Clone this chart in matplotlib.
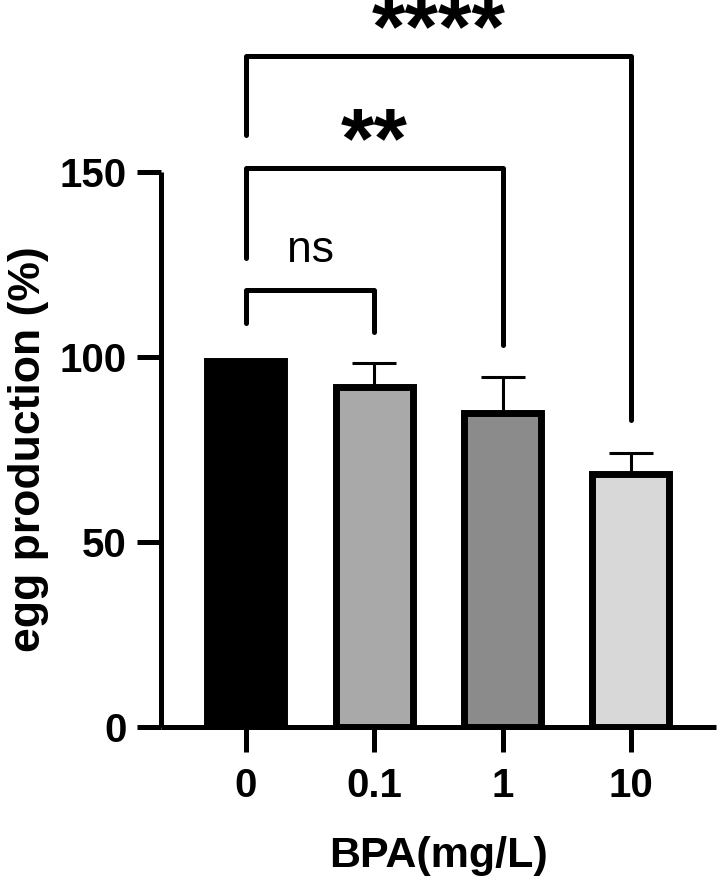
import matplotlib
matplotlib.use("Agg")
import matplotlib.pyplot as plt

plt.rcParams['font.family'] = ['Liberation Sans', 'DejaVu Sans']

# ---- data ----
categories = ["0", "0.1", "1", "10"]
means = [99.0, 92.0, 85.0, 68.5]
sds = [0.0, 6.4, 9.6, 5.6]
bar_colors = ["#000000", "#a9a9a9", "#8b8b8b", "#d8d8d8"]
y_ticks = [0, 50, 100, 150]
x_label = "BPA(mg/L)"
y_label = "egg production (%)"

# comparisons: (group a, group b, label, bracket top, left leg bottom, right leg bottom, text y)
comparisons = [
    (0, 1, "ns", 118.1, 109.2, 106.8, 128.9),
    (0, 2, "**", 151.1, 126.8, 103.2, 157.3),
    (0, 3, "****", 181.4, 160.0, 83.0, 187.4),
]

W, H = 718, 876
fig = plt.figure(figsize=(W / 100, H / 100), dpi=100)
ax = fig.add_axes([161 / W, (H - 727) / H, (716 - 161) / W, 555 / H])

x = list(range(len(categories)))
ax.errorbar(x, means, yerr=[[0] * len(sds), sds], fmt="none", ecolor="black",
            elinewidth=2.2, capsize=15.5, capthick=2.2, zorder=2)
ax.bar(x, means, width=0.6, color=bar_colors, edgecolor="black",
       linewidth=5.0, zorder=3)

ax.set_xlim(-0.662, 3.663)
ax.set_ylim(0, 150)
ax.set_yticks(y_ticks)
ax.set_xticks(x)
ax.set_xticklabels(categories)

for s in ["top", "right"]:
    ax.spines[s].set_visible(False)
for s in ["left", "bottom"]:
    ax.spines[s].set_linewidth(3.6)
    ax.spines[s].set_capstyle("butt")

ax.tick_params(axis="y", length=17, width=3.6, pad=8, labelsize=29)
ax.tick_params(axis="x", length=18, width=3.6, pad=11, labelsize=29)
for lab in ax.get_xticklabels() + ax.get_yticklabels():
    lab.set_fontweight("bold")

ax.set_xlabel(x_label, fontsize=31, fontweight="bold", labelpad=22)
ax.set_ylabel(y_label, fontsize=32, fontweight="bold", labelpad=7)

for a, b, lab, top, lb, rb, ty in comparisons:
    ax.plot([a, a, b, b], [lb, top, top, rb], color="black", lw=3.6,
            clip_on=False, solid_joinstyle="round", solid_capstyle="round", zorder=4)
    if lab == "ns":
        ax.text((a + b) / 2, ty, lab, ha="center", va="center", fontsize=32,
                clip_on=False)
    else:
        ax.text((a + b) / 2, ty, lab, ha="center", va="center", fontsize=62,
                fontweight="bold", clip_on=False)

fig.savefig("out.png", dpi=100)
